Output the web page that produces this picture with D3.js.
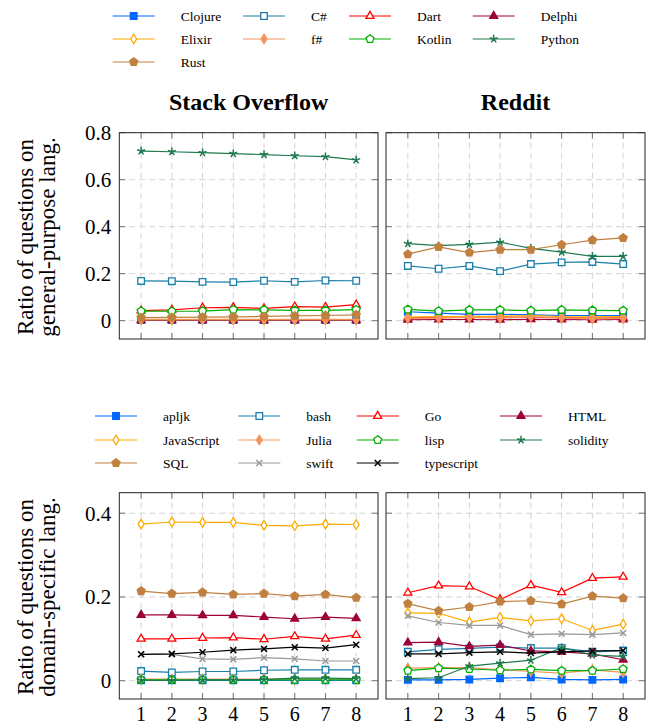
<!DOCTYPE html>
<html>
<head>
<meta charset="utf-8">
<script src="https://cdn.jsdelivr.net/npm/d3@7.9.0/dist/d3.min.js"></script>
<style>
  body { margin: 0; background: #fff; }
  svg { display: block; font-family: 'Liberation Serif', 'DejaVu Serif', serif; }
</style>
</head>
<body>
<svg id="chart" width="649" height="725"></svg>
<script>
// ---- data ----
const steps = [1, 2, 3, 4, 5, 6, 7, 8];
const generalLangs = ['Clojure', 'C#', 'Dart', 'Delphi', 'Elixir', 'f#', 'Kotlin', 'Python', 'Rust'];
const domainLangs = ['apljk', 'bash', 'Go', 'HTML', 'JavaScript', 'Julia', 'lisp', 'solidity', 'SQL', 'swift', 'typescript'];
const generalTicks = [0, 0.2, 0.4, 0.6, 0.8];
const domainTicks = [0, 0.2, 0.4];

// rows follow generalLangs order
const soGeneral = [
  [0.003, 0.003, 0.003, 0.003, 0.003, 0.003, 0.003, 0.003],
  [0.169, 0.168, 0.165, 0.164, 0.170, 0.165, 0.171, 0.170],
  [0.043, 0.046, 0.055, 0.057, 0.052, 0.060, 0.058, 0.068],
  [0.002, 0.002, 0.002, 0.002, 0.002, 0.002, 0.002, 0.002],
  [0.004, 0.004, 0.004, 0.004, 0.004, 0.004, 0.004, 0.004],
  [0.006, 0.006, 0.006, 0.006, 0.006, 0.006, 0.006, 0.006],
  [0.041, 0.040, 0.041, 0.047, 0.046, 0.044, 0.044, 0.047],
  [0.722, 0.719, 0.715, 0.711, 0.707, 0.702, 0.698, 0.684],
  [0.013, 0.014, 0.015, 0.016, 0.018, 0.020, 0.022, 0.025]
];
const redditGeneral = [
  [0.038, 0.032, 0.027, 0.027, 0.025, 0.022, 0.022, 0.022],
  [0.233, 0.221, 0.233, 0.211, 0.241, 0.248, 0.250, 0.241],
  [0.012, 0.015, 0.018, 0.016, 0.014, 0.013, 0.011, 0.012],
  [0.004, 0.005, 0.005, 0.004, 0.006, 0.005, 0.004, 0.005],
  [0.015, 0.017, 0.017, 0.019, 0.022, 0.017, 0.016, 0.017],
  [0.010, 0.011, 0.014, 0.011, 0.016, 0.012, 0.008, 0.010],
  [0.048, 0.041, 0.046, 0.046, 0.043, 0.046, 0.044, 0.043],
  [0.328, 0.319, 0.325, 0.334, 0.308, 0.292, 0.274, 0.274],
  [0.283, 0.314, 0.290, 0.302, 0.302, 0.323, 0.343, 0.352]
];
// rows follow domainLangs order
const soDomain = [
  [0.001, 0.001, 0.001, 0.001, 0.001, 0.001, 0.001, 0.001],
  [0.023, 0.020, 0.022, 0.022, 0.025, 0.026, 0.026, 0.026],
  [0.100, 0.100, 0.102, 0.103, 0.099, 0.106, 0.100, 0.109],
  [0.157, 0.157, 0.156, 0.156, 0.152, 0.148, 0.152, 0.149],
  [0.374, 0.379, 0.378, 0.378, 0.371, 0.370, 0.374, 0.373],
  [0.004, 0.004, 0.004, 0.004, 0.004, 0.004, 0.004, 0.004],
  [0.002, 0.002, 0.002, 0.002, 0.002, 0.002, 0.002, 0.002],
  [0.001, 0.001, 0.002, 0.002, 0.003, 0.006, 0.006, 0.005],
  [0.214, 0.208, 0.211, 0.206, 0.208, 0.202, 0.206, 0.198],
  [0.063, 0.063, 0.052, 0.051, 0.055, 0.052, 0.047, 0.047],
  [0.063, 0.064, 0.068, 0.073, 0.076, 0.080, 0.078, 0.086]
];
const redditDomain = [
  [0.002, 0.002, 0.003, 0.006, 0.008, 0.003, 0.002, 0.003],
  [0.069, 0.075, 0.077, 0.080, 0.078, 0.078, 0.069, 0.072],
  [0.210, 0.227, 0.225, 0.194, 0.228, 0.211, 0.245, 0.248],
  [0.091, 0.092, 0.082, 0.085, 0.071, 0.069, 0.064, 0.050],
  [0.162, 0.161, 0.140, 0.151, 0.143, 0.148, 0.120, 0.135],
  [0.030, 0.031, 0.031, 0.026, 0.022, 0.018, 0.026, 0.020],
  [0.024, 0.030, 0.028, 0.025, 0.027, 0.024, 0.024, 0.028],
  [0.005, 0.007, 0.035, 0.042, 0.049, 0.079, 0.061, 0.058],
  [0.184, 0.167, 0.176, 0.189, 0.191, 0.183, 0.202, 0.197],
  [0.155, 0.139, 0.132, 0.132, 0.110, 0.112, 0.110, 0.114],
  [0.064, 0.064, 0.067, 0.069, 0.066, 0.069, 0.071, 0.072]
];

// ---- styles ----
const generalStyle = [
  { color: '#0066ff', mark: 'square', fill: true },
  { color: '#1b7fab', mark: 'square', fill: false },
  { color: '#ff0000', mark: 'triangle', fill: false },
  { color: '#9c0039', mark: 'triangle', fill: true },
  { color: '#ffaa00', mark: 'diamond', fill: false },
  { color: '#f5955f', mark: 'diamond', fill: true },
  { color: '#00b000', mark: 'pentagon', fill: false },
  { color: '#1e7a4e', mark: 'star', fill: false },
  { color: '#c0803f', mark: 'pentagon', fill: true }
];
const domainStyle = [
  { color: '#0066ff', mark: 'square', fill: true },
  { color: '#1b7fab', mark: 'square', fill: false },
  { color: '#ff0000', mark: 'triangle', fill: false },
  { color: '#9c0039', mark: 'triangle', fill: true },
  { color: '#ffaa00', mark: 'diamond', fill: false },
  { color: '#f5955f', mark: 'diamond', fill: true },
  { color: '#00b000', mark: 'pentagon', fill: false },
  { color: '#1e7a4e', mark: 'star', fill: false },
  { color: '#c0803f', mark: 'pentagon', fill: true },
  { color: '#999999', mark: 'cross', fill: false },
  { color: '#000000', mark: 'cross', fill: false }
];

function markPath(type) {
  const p = d3.path();
  if (type === 'square') {
    p.rect(-3.3, -3.3, 6.6, 6.6);
  } else if (type === 'triangle') {
    p.moveTo(0, -4.6); p.lineTo(4, 2.3); p.lineTo(-4, 2.3); p.closePath();
  } else if (type === 'diamond') {
    p.moveTo(0, -4.8); p.lineTo(2.9, 0); p.lineTo(0, 4.8); p.lineTo(-2.9, 0); p.closePath();
  } else if (type === 'pentagon') {
    for (let k = 0; k < 5; k++) {
      const a = -Math.PI / 2 + k * 2 * Math.PI / 5;
      const x = 4.2 * Math.cos(a), y = 4.2 * Math.sin(a);
      if (k === 0) p.moveTo(x, y); else p.lineTo(x, y);
    }
    p.closePath();
  } else if (type === 'star') {
    for (let k = 0; k < 5; k++) {
      const a = -Math.PI / 2 + k * 2 * Math.PI / 5;
      p.moveTo(0, 0); p.lineTo(4.2 * Math.cos(a), 4.2 * Math.sin(a));
    }
  } else if (type === 'cross') {
    p.moveTo(-3, -3); p.lineTo(3, 3); p.moveTo(3, -3); p.lineTo(-3, 3);
  }
  return p.toString();
}

function drawMark(g, st, x, y) {
  g.append('path')
    .attr('d', markPath(st.mark))
    .attr('transform', `translate(${x},${y})`)
    .attr('fill', st.mark === 'star' || st.mark === 'cross' ? 'none' : (st.fill ? st.color : '#fff'))
    .attr('stroke', st.color)
    .attr('stroke-width', st.mark === 'star' || st.mark === 'cross' ? 1.5 : 1.3);
}

const svg = d3.select('#chart');

function panel(box, yDomain, yTicks, rows, styles, showY, showX) {
  const x = d3.scaleLinear().domain([0.29, 8.71]).range([box.x0, box.x1]);
  const y = d3.scaleLinear().domain(yDomain).range([box.y1, box.y0]);
  const g = svg.append('g');

  // grid
  g.selectAll('.vg').data(steps).enter().append('line')
    .attr('x1', d => x(d)).attr('x2', d => x(d))
    .attr('y1', box.y0).attr('y2', box.y1)
    .attr('stroke', '#d4d4d4').attr('stroke-dasharray', '6,4');
  g.selectAll('.hg').data(yTicks).enter().append('line')
    .attr('x1', box.x0).attr('x2', box.x1)
    .attr('y1', d => y(d)).attr('y2', d => y(d))
    .attr('stroke', '#d4d4d4').attr('stroke-dasharray', '6,4');

  // inner ticks on all four sides
  const tk = 6;
  steps.forEach(s => {
    g.append('line').attr('x1', x(s)).attr('x2', x(s)).attr('y1', box.y0).attr('y2', box.y0 + tk)
      .attr('stroke', '#777');
    g.append('line').attr('x1', x(s)).attr('x2', x(s)).attr('y1', box.y1).attr('y2', box.y1 - tk)
      .attr('stroke', '#777');
  });
  yTicks.forEach(t => {
    g.append('line').attr('x1', box.x0).attr('x2', box.x0 + tk).attr('y1', y(t)).attr('y2', y(t))
      .attr('stroke', '#777');
    g.append('line').attr('x1', box.x1).attr('x2', box.x1 - tk).attr('y1', y(t)).attr('y2', y(t))
      .attr('stroke', '#777');
  });

  // series
  const line = d3.line().x((d, i) => x(steps[i])).y(d => y(d));
  rows.forEach((vals, i) => {
    const st = styles[i];
    g.append('path').datum(vals).attr('d', line)
      .attr('fill', 'none').attr('stroke', st.color).attr('stroke-width', 1.2);
    vals.forEach((v, j) => drawMark(g, st, x(steps[j]), y(v)));
  });

  // frame
  g.append('rect')
    .attr('x', box.x0).attr('y', box.y0)
    .attr('width', box.x1 - box.x0).attr('height', box.y1 - box.y0)
    .attr('fill', 'none').attr('stroke', '#222').attr('stroke-width', 1);

  if (showY) {
    g.selectAll('.yl').data(yTicks).enter().append('text')
      .attr('x', box.x0 - 8).attr('y', d => y(d)).attr('dy', '0.35em')
      .attr('text-anchor', 'end').attr('font-size', 21)
      .text(d => d === 0 ? '0' : d3.format('.1f')(d));
  }
  if (showX) {
    g.selectAll('.xl').data(steps).enter().append('text')
      .attr('x', d => x(d)).attr('y', 721)
      .attr('text-anchor', 'middle').attr('font-size', 20)
      .text(d => d);
  }
}

const yGeneral = [-0.078, 0.8];
const yDomainRange = [-0.0437, 0.449];
panel({ x0: 119.3, x1: 378, y0: 132.7, y1: 339 }, yGeneral, generalTicks, soGeneral, generalStyle, true, false);
panel({ x0: 386, x1: 645, y0: 132.7, y1: 339 }, yGeneral, generalTicks, redditGeneral, generalStyle, false, false);
panel({ x0: 119.3, x1: 378, y0: 492.7, y1: 699 }, yDomainRange, domainTicks, soDomain, domainStyle, true, true);
panel({ x0: 386, x1: 645, y0: 492.7, y1: 699 }, yDomainRange, domainTicks, redditDomain, domainStyle, false, true);

// titles
svg.append('text').attr('x', 248.6).attr('y', 110).attr('text-anchor', 'middle')
  .attr('font-size', 24).attr('font-weight', 'bold').text('Stack Overflow');
svg.append('text').attr('x', 515.5).attr('y', 110).attr('text-anchor', 'middle')
  .attr('font-size', 24).attr('font-weight', 'bold').text('Reddit');

// y axis titles
function yTitle(cy, lines) {
  lines.forEach((t, i) => {
    svg.append('text')
      .attr('transform', `translate(${33 + i * 22},${cy}) rotate(-90)`)
      .attr('text-anchor', 'middle').attr('font-size', 23)
      .text(t);
  });
}
yTitle(237, ['Ratio of questions on', 'general-purpose lang.']);
yTitle(597, ['Ratio of questions on', 'domain-specific lang.']);

// legends
function legend(names, styles, colX, rowY) {
  names.forEach((n, i) => {
    const col = i % 4, row = Math.floor(i / 4);
    const x0 = colX[col], yy = rowY[row];
    const st = styles[i];
    const g = svg.append('g');
    g.append('line').attr('x1', x0).attr('x2', x0 + 42).attr('y1', yy).attr('y2', yy)
      .attr('stroke', st.color).attr('stroke-width', 1.2);
    drawMark(g, st, x0 + 21, yy);
    g.append('text').attr('x', x0 + 68).attr('y', yy).attr('dy', '0.35em')
      .attr('font-size', 13.5).text(n);
  });
}
legend(generalLangs, generalStyle, [112.7, 243, 349, 472.7], [16, 39, 62]);
legend(domainLangs, domainStyle, [95, 238.3, 356.7, 500], [416, 440, 463]);
</script>
</body>
</html>
